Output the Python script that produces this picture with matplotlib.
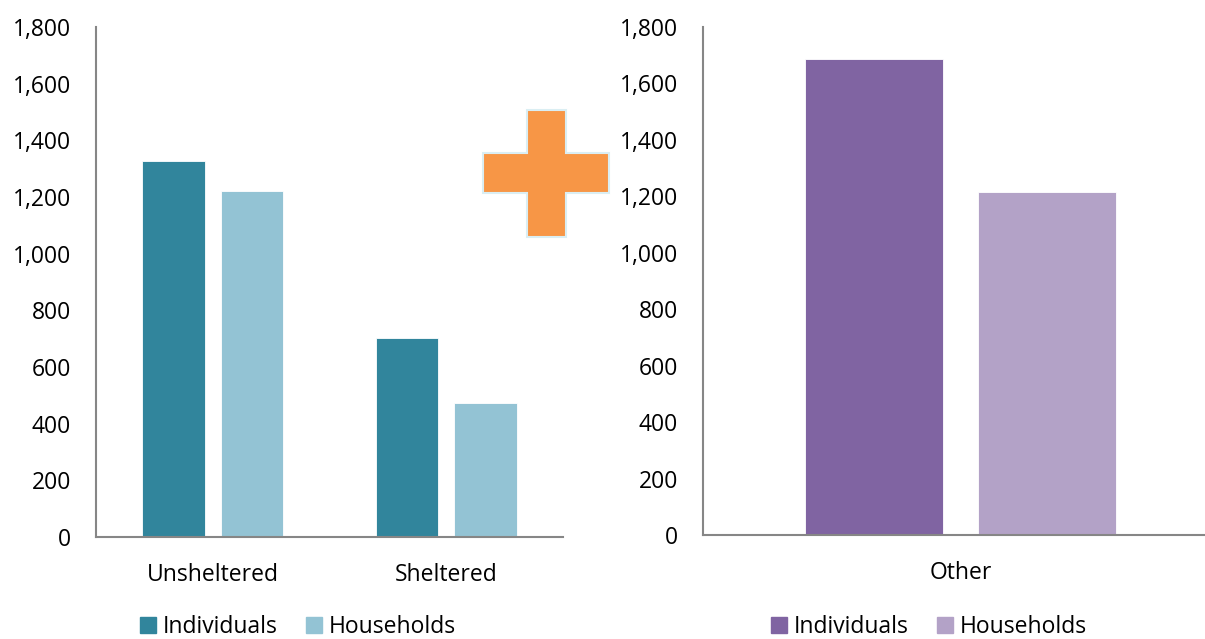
import matplotlib
matplotlib.use("Agg")
import matplotlib.pyplot as plt
import numpy as np
from matplotlib.patches import Patch, Polygon
from matplotlib.ticker import FuncFormatter

# homeless counts by shelter status
status = ["Unsheltered", "Sheltered"]
status_individuals = [1327, 702]
status_households = [1221, 473]

other = ["Other"]
other_individuals = [1687]
other_households = [1215]

series = ["Individuals", "Households"]
yticks = list(range(0, 1801, 200))

TEAL, TEAL_LT = "#31859C", "#93C3D4"
PURPLE, PURPLE_LT = "#8064A2", "#B3A2C7"
SPINE = "#868686"

plt.rcParams["font.family"] = ["Open Sans", "DejaVu Sans"]
FS = 16.5

W, H = 1205, 639
fig = plt.figure(figsize=(W / 100, H / 100), dpi=100)


def px_axes(x0, y_top, x1, y_bot):
    return fig.add_axes([x0 / W, 1 - y_bot / H, (x1 - x0) / W, (y_bot - y_top) / H])


def style(ax):
    ax.set_ylim(0, 1800)
    ax.set_yticks(yticks)
    ax.yaxis.set_major_formatter(FuncFormatter(lambda v, p: f"{int(v):,}"))
    for s in ("top", "right"):
        ax.spines[s].set_visible(False)
    for s in ("left", "bottom"):
        ax.spines[s].set_color(SPINE)
        ax.spines[s].set_linewidth(1.5)
    ax.tick_params(axis="both", length=0, labelsize=FS, colors="black")
    ax.tick_params(axis="y", pad=18)
    ax.tick_params(axis="x", pad=19)


def grouped(ax, cats, a, b, ca, cb):
    x = np.arange(len(cats))
    w = 0.267
    off = 0.168
    ax.bar(x - off, a, w, color=ca, edgecolor="white", linewidth=0.6)
    ax.bar(x + off, b, w, color=cb, edgecolor="white", linewidth=0.6)
    ax.set_xlim(-0.5, len(cats) - 0.5)
    ax.set_xticks(x)
    ax.set_xticklabels(cats)
    style(ax)
    handles = [Patch(color=ca), Patch(color=cb)]
    return handles


ax1 = px_axes(96, 27, 563, 537)
h1 = grouped(ax1, status, status_individuals, status_households, TEAL, TEAL_LT)

ax2 = px_axes(703, 27, 1218, 535)
h2 = grouped(ax2, other, other_individuals, other_households, PURPLE, PURPLE_LT)

leg_kw = dict(loc="center", ncol=2, frameon=False, fontsize=FS,
              handlelength=0.7, handleheight=0.7, handletextpad=0.3,
              columnspacing=1.2, borderaxespad=0)
fig.legend(h1, series, bbox_to_anchor=(298 / W, 1 - 627 / H), **leg_kw)
fig.legend(h2, series, bbox_to_anchor=(929 / W, 1 - 627 / H), **leg_kw)

# orange plus sign between the two panels
cx0, cx1 = 527, 566
hx0, hx1 = 483, 609
vy0, vy1 = 110, 237
hy0, hy1 = 153, 193
pts = [(cx0, vy0), (cx1, vy0), (cx1, hy0), (hx1, hy0), (hx1, hy1), (cx1, hy1),
       (cx1, vy1), (cx0, vy1), (cx0, hy1), (hx0, hy1), (hx0, hy0), (cx0, hy0)]
plus = Polygon([(x / W, 1 - y / H) for x, y in pts], closed=True,
               transform=fig.transFigure, facecolor="#F79646",
               edgecolor="#DAEEF3", linewidth=1.5, zorder=10)
fig.patches.append(plus)

fig.savefig("out.png", dpi=100)
